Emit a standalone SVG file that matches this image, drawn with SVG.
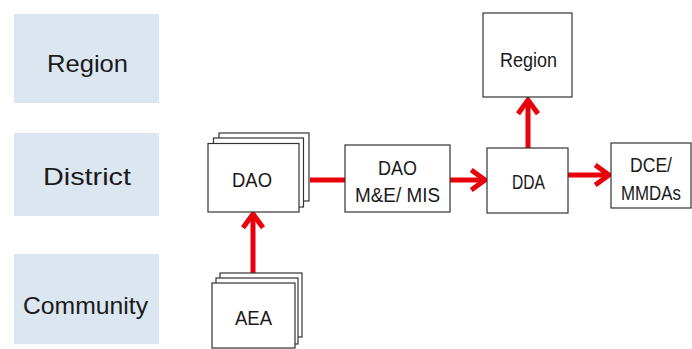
<svg xmlns="http://www.w3.org/2000/svg" width="692" height="349" viewBox="0 0 692 349">
<defs>
<style>
.lvl{fill:#dce6f1;}
.lt{font-family:"Liberation Sans",Arial,sans-serif;font-size:24px;fill:#1a1a1a;text-anchor:middle;}
.box{fill:#fff;stroke:#333;stroke-width:1.2;}
.bt{font-family:"Liberation Sans",Arial,sans-serif;font-size:21px;fill:#1a1a1a;text-anchor:middle;}
.con{stroke:#e8000b;stroke-width:5;fill:none;}
</style>
<marker id="ah" viewBox="0 0 10 10" refX="8" refY="5" markerWidth="5" markerHeight="5" orient="auto" markerUnits="strokeWidth">
<polyline points="2.5,1 8,5 2.5,9" fill="none" stroke="#e8000b" stroke-width="2"/>
</marker>
</defs>
<rect width="692" height="349" fill="#fff"/>
<g id="level-region"><rect class="lvl" x="14" y="14" width="145" height="89"/><text class="lt" x="87.5" y="72" textLength="81" lengthAdjust="spacingAndGlyphs">Region</text></g>
<g id="level-district"><rect class="lvl" x="14" y="133" width="145" height="83"/><text class="lt" x="87" y="185" textLength="88" lengthAdjust="spacingAndGlyphs">District</text></g>
<g id="level-community"><rect class="lvl" x="14" y="254" width="145" height="90"/><text class="lt" x="85.5" y="314" textLength="125" lengthAdjust="spacingAndGlyphs">Community</text></g>
<g id="connectors">
<line class="con" x1="310" y1="180" x2="345" y2="180"/>
<line class="con" x1="450" y1="180" x2="485" y2="180" marker-end="url(#ah)"/>
<line class="con" x1="528" y1="148" x2="528" y2="100" marker-end="url(#ah)"/>
<line class="con" x1="568" y1="175" x2="609" y2="175" marker-end="url(#ah)"/>
<line class="con" x1="253" y1="273" x2="253" y2="214" marker-end="url(#ah)"/>
</g>
<g id="dao">
<rect class="box" x="219" y="133" width="90" height="68"/>
<rect class="box" x="213.5" y="138" width="90" height="69"/>
<rect class="box" x="208" y="143.5" width="91" height="68.5"/>
<text class="bt" x="252" y="187" textLength="40" lengthAdjust="spacingAndGlyphs">DAO</text>
</g>
<g id="aea">
<rect class="box" x="220" y="273" width="82" height="64"/>
<rect class="box" x="216" y="278" width="82" height="66"/>
<rect class="box" x="212" y="283" width="83" height="65"/>
<text class="bt" x="253.5" y="325" textLength="37" lengthAdjust="spacingAndGlyphs">AEA</text>
</g>
<g id="dao-me-mis">
<rect class="box" x="345" y="145" width="105" height="67"/>
<text class="bt" x="397.5" y="175" textLength="39" lengthAdjust="spacingAndGlyphs">DAO</text>
<text class="bt" x="397.5" y="202" textLength="85" lengthAdjust="spacingAndGlyphs">M&amp;E/ MIS</text>
</g>
<g id="dda">
<rect class="box" x="487" y="148" width="81" height="65"/>
<text class="bt" x="528.5" y="189" textLength="33" lengthAdjust="spacingAndGlyphs">DDA</text>
</g>
<g id="region">
<rect class="box" x="483" y="13" width="89" height="84"/>
<text class="bt" x="528.5" y="67" textLength="57" lengthAdjust="spacingAndGlyphs">Region</text>
</g>
<g id="dce-mmdas">
<rect class="box" x="611" y="143" width="80" height="65"/>
<text class="bt" x="651" y="172" textLength="42" lengthAdjust="spacingAndGlyphs">DCE/</text>
<text class="bt" x="651" y="200" font-size="18" textLength="60" lengthAdjust="spacingAndGlyphs">MMDAs</text>
</g>
</svg>
